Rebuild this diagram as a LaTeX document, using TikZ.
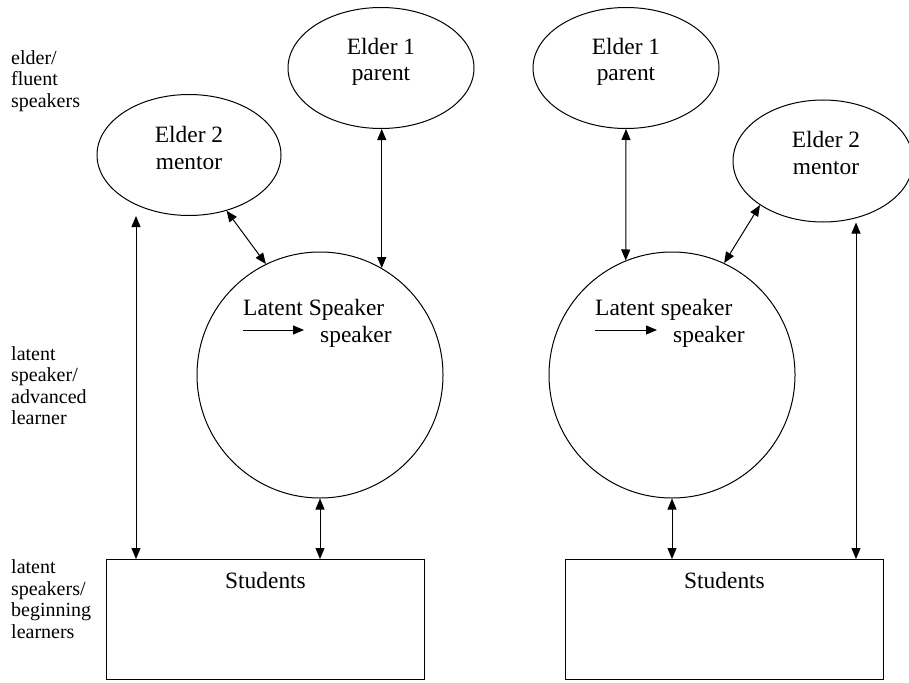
\documentclass[tikz,border=0pt]{standalone}
\usepackage{fontspec}
\setmainfont{Liberation Serif}
\usetikzlibrary{shapes.geometric,arrows.meta}
\begin{document}
\begin{tikzpicture}[x=1pt,y=-1pt,
  every node/.style={inner sep=0pt},
  big/.style={font=\fontsize{23.4}{26.5}\selectfont},
  side/.style={font=\fontsize{20}{21.5}\selectfont, align=left, anchor=base west},
  oval/.style={draw, ellipse, line width=1pt},
  ovaltext/.style={big, align=center},
  ring/.style={draw, circle, line width=1pt, minimum size=246pt},
  stbox/.style={draw, rectangle, line width=1pt, big, minimum width=318pt, text height=29pt, text depth=91pt, anchor=north west},
  inner/.style={big, anchor=base west},
  link/.style={line width=1pt, {Triangle[length=11pt,width=9pt]}-{Triangle[length=11pt,width=9pt]}},
  pointer/.style={line width=1pt, -{Triangle[length=11pt,width=9pt]}}
]
\useasboundingbox (0,0) rectangle (909,682);
\clip (0,0) rectangle (909,682);

% side labels (anchor = baseline of the last line)
\node[side] (lab1) at (11,107) {elder/\\fluent\\speakers};
\node[side] (lab2) at (11,424.5) {latent\\speaker/\\advanced\\learner};
\node[side] (lab3) at (11,638) {latent\\speakers/\\beginning\\learners};

% left group
\node[oval, minimum width=186pt, minimum height=121pt] (e1L) at (381,68) {};
\node[ovaltext] (e1Lt) at ([yshift=6pt]e1L.center) {Elder 1\\parent};
\node[oval, minimum width=184pt, minimum height=121pt] (e2L) at (189,155) {};
\node[ovaltext] (e2Lt) at ([yshift=7pt]e2L.center) {Elder 2\\mentor};
\node[ring] (cL) at (320,375) {};
\node[stbox] (sL) at (106,559) {Students};
\node[inner] (tL1) at (243,315) {Latent Speaker};
\node[inner] (tL2) at (320,342) {speaker};
\coordinate (aL1) at (243,330);
\coordinate (aL2) at (304,330);
\coordinate (lx) at (136,0);

% right group
\node[oval, minimum width=186pt, minimum height=121pt] (e1R) at (626,68) {};
\node[ovaltext] (e1Rt) at ([yshift=6pt]e1R.center) {Elder 1\\parent};
\node[oval, minimum width=180pt, minimum height=122pt] (e2R) at (823,161) {};
\node[ovaltext] (e2Rt) at ([yshift=8pt]826,161) {Elder 2\\mentor};
\node[ring] (cR) at (672,375) {};
\node[stbox] (sR) at (565,559) {Students};
\node[inner] (tR1) at (595,315) {Latent speaker};
\node[inner] (tR2) at (673,342) {speaker};
\coordinate (aR1) at (595,330);
\coordinate (aR2) at (657,330);
\coordinate (rx) at (856,0);

% left connectors
\draw[link] (cL.60 |- e1L.south) -- (cL.60);
\draw[link] (e2L.-56) -- (cL.116);
\draw[link] (e2L.south -| lx) -- (sL.north -| lx);
\draw[link] (cL.south) -- (cL.south |- sL.north);
\draw[pointer] (aL1) -- (aL2);

% right connectors
\draw[link] (e1R.south) -- (cR.112);
\draw[link] (e2R.215) -- (cR.65);
\draw[link] (e2R.south -| rx) -- (sR.north -| rx);
\draw[link] (cR.south) -- (cR.south |- sR.north);
\draw[pointer] (aR1) -- (aR2);
\end{tikzpicture}
\end{document}
